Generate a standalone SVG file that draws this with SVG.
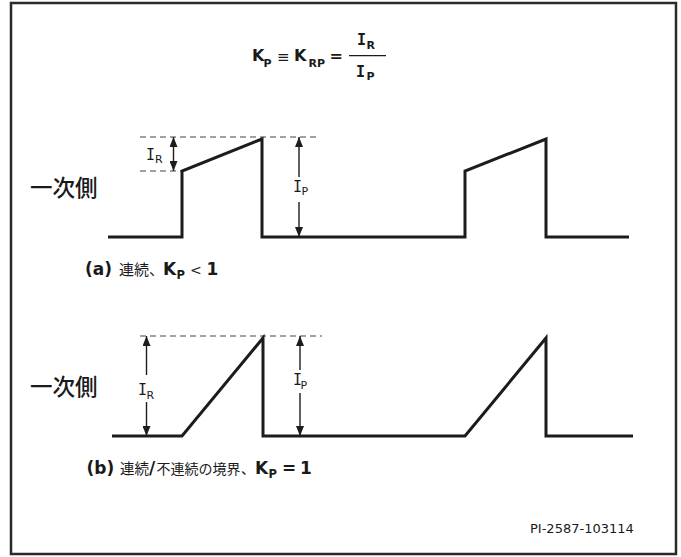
<svg xmlns="http://www.w3.org/2000/svg" width="681" height="557" viewBox="0 0 681 557">
<defs>
<style>
.frame{fill:#fff;stroke:#2a2a2a;stroke-width:2.5}
.wave{fill:none;stroke:#1c1c1c;stroke-width:3;stroke-linejoin:miter}
.dash{fill:none;stroke:#444;stroke-width:1.2;stroke-dasharray:6 4}
.arr{fill:none;stroke:#1c1c1c;stroke-width:1.4}
.fb{font-family:"DejaVu Sans","Noto Sans",sans-serif;font-weight:bold;fill:#1a1a1a}
.fn{font-family:"DejaVu Sans","Noto Sans",sans-serif;fill:#1a1a1a}
.fi{font-family:"DejaVu Sans Mono","Liberation Mono",monospace;fill:#1a1a1a}
.cjk{font-family:"Noto Sans CJK JP",sans-serif;fill:#1a1a1a}
</style>
<marker id="ah" viewBox="0 0 10 8" refX="10" refY="4" markerWidth="10" markerHeight="8" markerUnits="userSpaceOnUse" orient="auto-start-reverse">
<path d="M0,0 L10,4 L0,8 Z" fill="#1c1c1c"/>
</marker>
</defs>
<rect class="frame" x="11" y="3" width="665" height="551"/>

<g id="formula">
<text class="fb" x="252" y="61" font-size="16">K</text>
<text class="fb" x="263.5" y="66.5" font-size="11">P</text>
<text class="fn" x="277" y="61.5" font-size="15">≡</text>
<text class="fb" x="294" y="61" font-size="16">K</text>
<text class="fb" x="308.5" y="66.5" font-size="11">RP</text>
<text class="fb" x="329.5" y="61" font-size="16">=</text>
<line x1="349" y1="55.7" x2="386" y2="55.7" stroke="#1a1a1a" stroke-width="1.3"/>
<text class="fi" x="357" y="45" font-size="15" font-weight="bold">I</text>
<text class="fb" x="366.5" y="48.5" font-size="11">R</text>
<text class="fi" x="356" y="77" font-size="15" font-weight="bold">I</text>
<text class="fb" x="366.5" y="79.5" font-size="11">P</text>
</g>

<g id="waveform-a">
<line class="dash" x1="140" y1="137" x2="318" y2="137"/>
<line class="dash" x1="140" y1="171" x2="182" y2="171"/>
<path class="wave" d="M108,237 H182 V171 L262,139 V237 H465 V171 L546,139 V237 H629"/>
<text class="cjk" x="30" y="196" font-size="22.5" font-weight="500">一次側</text>
</g>

<g id="label-IR-a">
<text class="fi" x="146" y="160" font-size="15">I</text>
<text class="fn" x="155" y="163" font-size="11">R</text>
</g>
<g id="label-IP-a">
<text class="fi" x="293" y="191.5" font-size="15">I</text>
<text class="fn" x="301.5" y="194.5" font-size="11">P</text>
</g>

<g id="caption-a">
<text class="fb" x="85" y="275" font-size="17">(a)</text>
<text class="cjk" x="119" y="275" font-size="15">連続</text>
<text class="cjk" x="149" y="275" font-size="15">、</text>
<text class="fb" x="163" y="275" font-size="17">K</text>
<text class="fb" x="176.5" y="279" font-size="11.5">P</text>
<text class="fn" x="190" y="274.5" font-size="14">&lt;</text>
<text class="fb" x="206.5" y="275" font-size="17">1</text>
</g>

<g id="waveform-b">
<line class="dash" x1="140" y1="336" x2="322" y2="336"/>
<path class="wave" d="M112,436 H182 L263,338 V436 H465 L546,338 V436 H633"/>
<text class="cjk" x="30" y="395" font-size="22.5" font-weight="500">一次側</text>
</g>

<g id="label-IR-b">
<text class="fi" x="138" y="395" font-size="15">I</text>
<text class="fn" x="146.5" y="399" font-size="11">R</text>
</g>
<g id="label-IP-b">
<text class="fi" x="293" y="385" font-size="15">I</text>
<text class="fn" x="300.5" y="389" font-size="11">P</text>
</g>

<g id="caption-b">
<text class="fb" x="86.5" y="474" font-size="17">(b)</text>
<text class="cjk" x="120" y="474" font-size="14.5">連続</text>
<text class="fb" x="149" y="474" font-size="17">/</text>
<text class="cjk" x="156.5" y="474" font-size="14">不連続の境界</text>
<text class="cjk" x="241" y="474" font-size="14">、</text>
<text class="fb" x="255" y="474" font-size="17">K</text>
<text class="fb" x="268.5" y="478" font-size="11.5">P</text>
<text class="fb" x="282" y="474" font-size="17">=</text>
<text class="fb" x="300" y="474" font-size="17">1</text>
</g>

<g id="label-pi">
<text class="fn" x="530" y="533" font-size="13">PI-2587-103114</text>
</g>

<g id="connectors">
<line class="arr" x1="173.5" y1="154" x2="173.5" y2="137" marker-end="url(#ah)"/>
<line class="arr" x1="173.5" y1="154" x2="173.5" y2="171" marker-end="url(#ah)"/>
<line class="arr" x1="299" y1="177" x2="299" y2="137" marker-end="url(#ah)"/>
<line class="arr" x1="299" y1="202" x2="299" y2="237" marker-end="url(#ah)"/>
<line class="arr" x1="146.5" y1="375" x2="146.5" y2="336" marker-end="url(#ah)"/>
<line class="arr" x1="146.5" y1="402" x2="146.5" y2="436" marker-end="url(#ah)"/>
<line class="arr" x1="300" y1="370" x2="300" y2="336" marker-end="url(#ah)"/>
<line class="arr" x1="300" y1="393" x2="300" y2="436" marker-end="url(#ah)"/>
</g>
</svg>
